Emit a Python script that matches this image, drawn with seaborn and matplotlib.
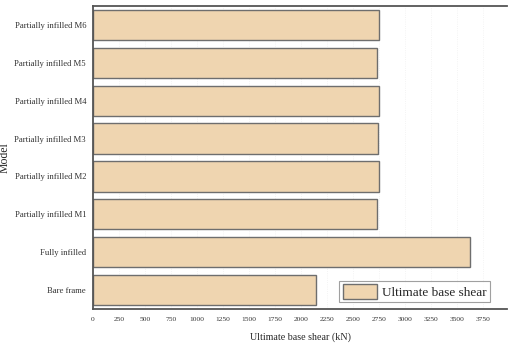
import matplotlib
matplotlib.use("Agg")
import matplotlib.pyplot as plt
import seaborn as sns
import pandas as pd

# Ultimate base shear per model (kN), top to bottom
models = ['Partially infilled M6', 'Partially infilled M5', 'Partially infilled M4',
          'Partially infilled M3', 'Partially infilled M2', 'Partially infilled M1',
          'Fully infilled', 'Bare frame']
base_shear = [2750, 2730, 2750, 2740, 2750, 2735, 3620, 2140]
x_ticks = [0, 250, 500, 750, 1000, 1250, 1500, 1750, 2000, 2250, 2500,
           2750, 3000, 3250, 3500, 3750]

df = pd.DataFrame({'Model': models, 'Ultimate base shear': base_shear})

sns.set_style('white')
plt.rcParams['font.family'] = ['Liberation Serif', 'DejaVu Serif']

fig, ax = plt.subplots(figsize=(5.11, 3.43), dpi=100)
fig.subplots_adjust(left=93 / 511, right=507 / 511, top=1 - 6 / 343, bottom=1 - 309 / 343)

ax.grid(True, color='#f0f0f0', linewidth=0.6, linestyle=':')
ax.set_axisbelow(True)

sns.barplot(data=df, x='Ultimate base shear', y='Model', order=models,
            color='#efd5b0', edgecolor='#6e6e6e', linewidth=1.0,
            width=0.8, saturation=1, ax=ax, label='Ultimate base shear')

ax.set_xlim(0, 3980)
ax.set_ylim(7.5, -0.5)
ax.set_xticks(x_ticks)
ax.tick_params(axis='x', labelsize=5.4, length=0, pad=6, colors='#333333')
ax.tick_params(axis='y', labelsize=6.2, length=0, pad=5, colors='#333333')
ax.set_xlabel('Ultimate base shear (kN)', fontsize=7.2, labelpad=7)
ax.set_ylabel('Model', fontsize=8.5)
ax.yaxis.set_label_coords(-0.198, 0.5)

for side in ['left', 'bottom', 'top']:
    ax.spines[side].set_visible(True)
    ax.spines[side].set_color('#555555')
    ax.spines[side].set_linewidth(1.3)
ax.spines['right'].set_visible(False)

leg = ax.legend(loc='lower right', bbox_to_anchor=(0.975, 0.0), fontsize=9.5,
                frameon=True, fancybox=False, edgecolor='#888888',
                handlelength=2.6, handleheight=1.3, borderpad=0.25,
                handletextpad=0.4)
leg.get_frame().set_linewidth(0.8)

plt.savefig('out.png', dpi=100)
